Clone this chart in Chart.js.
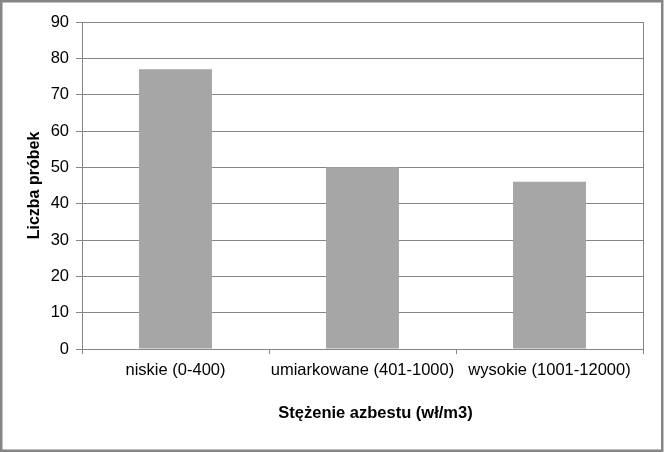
<!DOCTYPE html>
<html>
<head>
<meta charset="utf-8">
<script src="https://cdn.jsdelivr.net/npm/chart.js@4"></script>
<style>
  html, body { margin: 0; padding: 0; background: #fff; }
  #wrap { width: 664px; height: 452px; }
</style>
</head>
<body>
<div id="wrap"><canvas id="chart" width="664" height="452"></canvas></div>
<script>
// data
const categories = ["niskie (0-400)", "umiarkowane (401-1000)", "wysokie (1001-12000)"];
const sampleCounts = [77, 50, 46];
const yTicks = [0, 10, 20, 30, 40, 50, 60, 70, 80, 90];
const xTitle = "Stężenie azbestu (wł/m3)";

const lineGray = "#868686";
const font = "'Liberation Sans', Arial, sans-serif";

const plotLeft = 82, plotTop = 22, plotRight = 643, plotBottom = 349;
const pad = { left: 25, top: plotTop, right: 664 - plotRight, bottom: 29 };

// frame around the whole picture, right side of the plot box,
// and the x axis title (sits a bit right of centre in the original)
const frames = {
  id: "frames",
  afterDraw(chart) {
    const ctx = chart.ctx;
    const a = chart.chartArea;
    ctx.save();
    ctx.strokeStyle = lineGray;
    ctx.lineWidth = 1;
    ctx.beginPath();
    ctx.moveTo(a.right + 0.5, a.top);
    ctx.lineTo(a.right + 0.5, a.bottom);
    ctx.stroke();
    ctx.lineWidth = 2.5;
    ctx.strokeStyle = "#858585";
    ctx.strokeRect(1.25, 1.25, chart.width - 3, chart.height - 2.5);

    ctx.fillStyle = "#000";
    ctx.font = "bold 16.5px " + font;
    ctx.textAlign = "center";
    ctx.textBaseline = "middle";
    ctx.fillText(xTitle, (a.left + a.right) / 2 + 13, 413.5);
    ctx.restore();
  }
};

new Chart(document.getElementById("chart"), {
  type: "bar",
  data: {
    labels: categories,
    datasets: [{
      label: "Liczba próbek",
      data: sampleCounts,
      backgroundColor: "#a6a6a6",
      borderWidth: 0,
      barPercentage: 0.39,
      categoryPercentage: 1
    }]
  },
  options: {
    responsive: false,
    animation: false,
    devicePixelRatio: 1,
    layout: { padding: pad },
    plugins: {
      legend: { display: false },
      tooltip: { enabled: false }
    },
    scales: {
      x: {
        offset: true,
        grid: {
          offset: true,
          drawOnChartArea: false,
          drawTicks: true,
          tickLength: 5,
          color: lineGray
        },
        border: { color: lineGray },
        ticks: {
          color: "#000",
          padding: 7,
          maxRotation: 0,
          autoSkip: false,
          font: { family: font, size: 16.5 }
        },
        title: { display: false },
        afterFit: (s) => { s.height = 452 - pad.bottom - plotBottom; }
      },
      y: {
        min: 0,
        max: 90,
        afterBuildTicks: (s) => { s.ticks = yTicks.map((v) => ({ value: v })); },
        grid: {
          color: lineGray,
          drawTicks: true,
          tickLength: 6
        },
        border: { color: lineGray },
        ticks: {
          color: "#000",
          padding: 7,
          font: { family: font, size: 16.5 }
        },
        title: {
          display: true,
          text: "Liczba próbek",
          color: "#000",
          padding: 0,
          font: { family: font, size: 16, weight: "bold" }
        },
        afterFit: (s) => { s.width = plotLeft - pad.left; }
      }
    }
  },
  plugins: [frames]
});
</script>
</body>
</html>
